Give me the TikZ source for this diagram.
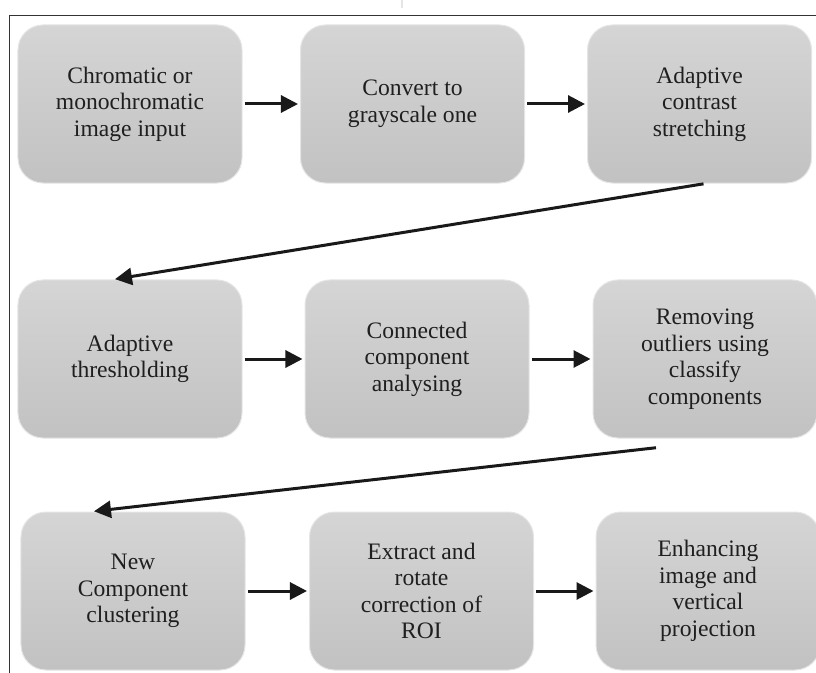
\documentclass[tikz,border=0pt]{standalone}
\usepackage{fontspec}
\setmainfont{Liberation Serif}
\usetikzlibrary{arrows.meta}

\tikzset{
    stage/.style={rectangle, rounded corners=12.5bp, minimum width=112bp, minimum height=79bp,
        top color=gray!33, bottom color=gray!48, draw=gray!20, line width=0.5bp,
        align=center, text=black!88, inner sep=2bp, font=\fontsize{11.8bp}{13.3bp}\selectfont},
    flow/.style={-{Triangle[length=8.5bp,width=8.5bp]}, line width=1.5bp, black!90,
        shorten <=1bp, shorten >=1bp}
}

\begin{document}
\begin{tikzpicture}[x=0.5bp,y=-0.5bp]
    \useasboundingbox (0,0) rectangle (816,673);
    %\draw [very thin,gray,dashed] (0,0) grid[step=50] (816,673);
    \draw [line width=1bp, black!10] (402,0) -- (402,8);
    \draw [line width=0.75bp, black!80] (816,15.5) -- (9.5,15.5) -- (9.5,673);
    % first row
    \node[stage] (input) at (130,104) {Chromatic or\\monochromatic\\image input};
    \node[stage] (gray) at (412.5,104) {Convert to\\grayscale one};
    \node[stage] (stretch) at (699.5,104) {Adaptive\\contrast\\stretching};
    % second row
    \node[stage] (thresh) at (130,359) {Adaptive\\thresholding};
    \node[stage] (conn) at (417,359) {Connected\\component\\analysing};
    \node[stage] (outl) at (705,359) {Removing\\outliers using\\classify\\components};
    % third row
    \node[stage] (clust) at (133,591) {New\\Component\\clustering};
    \node[stage] (roi) at (421.5,591) {Extract and\\rotate\\correction of\\ROI};
    \node[stage] (proj) at (708,591) {Enhancing\\image and\\vertical\\projection};
    \draw [flow] (input.east) -- (gray.west);
    \draw [flow] (gray.east) -- (stretch.west);
    \draw [flow] ([xshift=3bp]stretch.south) -- ([xshift=-8.5bp]thresh.north);
    \draw [flow] (thresh.east) -- (conn.west);
    \draw [flow] (conn.east) -- (outl.west);
    \draw [flow] ([xshift=-23.5bp,yshift=-4.5bp]outl.south) -- ([xshift=-20.5bp]clust.north);
    \draw [flow] (clust.east) -- (roi.west);
    \draw [flow] (roi.east) -- (proj.west);
\end{tikzpicture}
\end{document}
